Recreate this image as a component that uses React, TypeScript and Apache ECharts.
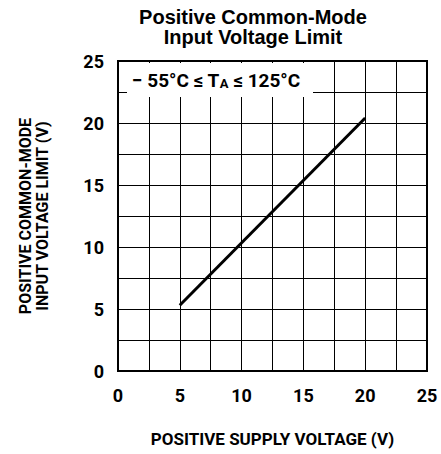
import React, { useEffect, useRef } from "react";
import * as echarts from "echarts";

const xTicks = [0, 5, 10, 15, 20, 25];
const yTicks = [0, 5, 10, 15, 20, 25];
const supplyVoltage = [5, 20];
const cmLimit = [5.3, 20.4];

const NARROW = "Roboto, 'Liberation Sans', sans-serif";

export default function App() {
  const ref = useRef<HTMLDivElement>(null);
  useEffect(() => {
    document.body.style.margin = "0";
    const chart = echarts.init(ref.current!, null, { renderer: "svg" });
    const fmt = (v: number) => (v % 5 === 0 ? String(v) : "");
    chart.setOption({
      animation: false,
      backgroundColor: "#fff",
      title: {
        text: "Positive Common-Mode\nInput Voltage Limit",
        left: 253,
        top: 7,
        padding: 0,
        textAlign: "center",
        textStyle: {
          fontFamily: "'Liberation Sans', Arial, sans-serif",
          fontWeight: "bold",
          fontSize: 20,
          lineHeight: 20,
          color: "#000",
        },
      },
      grid: {
        left: 118,
        top: 61,
        width: 309,
        height: 310,
        show: true,
        borderColor: "#000",
        borderWidth: 2,
        backgroundColor: "transparent",
      },
      xAxis: {
        type: "value",
        min: xTicks[0],
        max: xTicks[xTicks.length - 1],
        interval: 2.5,
        axisLine: { show: false },
        axisTick: { show: false },
        splitLine: { show: true, lineStyle: { color: "#000", width: 1 } },
        axisLabel: {
          formatter: fmt,
          margin: 15,
          color: "#000",
          fontFamily: NARROW,
          fontWeight: "bold",
          fontSize: 18,
          showMinLabel: true,
          showMaxLabel: true,
        },
        name: "POSITIVE SUPPLY VOLTAGE (V)",
        nameLocation: "middle",
        nameGap: 59,
        nameTextStyle: {
          color: "#000",
          fontFamily: NARROW,
          fontWeight: "bold",
          fontSize: 17,
        },
      },
      yAxis: {
        type: "value",
        min: yTicks[0],
        max: yTicks[yTicks.length - 1],
        interval: 2.5,
        axisLine: { show: false },
        axisTick: { show: false },
        splitLine: { show: true, lineStyle: { color: "#000", width: 1 } },
        axisLabel: {
          formatter: fmt,
          margin: 14,
          color: "#000",
          fontFamily: NARROW,
          fontWeight: "bold",
          fontSize: 18,
          showMinLabel: true,
          showMaxLabel: true,
        },
        name: "POSITIVE COMMON-MODE\nINPUT VOLTAGE LIMIT (V)",
        nameLocation: "middle",
        nameRotate: 90,
        nameGap: 67,
        nameTextStyle: {
          color: "#000",
          fontFamily: NARROW,
          fontWeight: "bold",
          fontSize: 16,
          lineHeight: 17,
        },
      },
      graphic: [
        {
          type: "rect",
          z: 50,
          shape: { x: 127, y: 63, width: 186, height: 34 },
          style: { fill: "#fff" },
        },
        {
          type: "text",
          z: 51,
          x: 132,
          y: 80,
          style: {
            text: "{a|− 55°C ≤ T}{s|A}{a| ≤ 125°C}",
            verticalAlign: "middle",
            rich: {
              a: {
                fontFamily: NARROW,
                fontWeight: "bold",
                fontSize: 19,
                fill: "#000",
              },
              s: {
                fontFamily: NARROW,
                fontWeight: "bold",
                fontSize: 13,
                fill: "#000",
                padding: [7, 0, 0, 0],
              },
            },
          },
        },
      ],
      series: [
        {
          type: "line",
          data: supplyVoltage.map((x, i) => [x, cmLimit[i]]),
          showSymbol: false,
          symbol: "none",
          lineStyle: { color: "#000", width: 3 },
          z: 10,
        },
      ],
    });
    return () => chart.dispose();
  }, []);
  return (
    <div
      ref={ref}
      style={{ position: "absolute", left: 0, top: 0, width: 441, height: 454 }}
    />
  );
}
